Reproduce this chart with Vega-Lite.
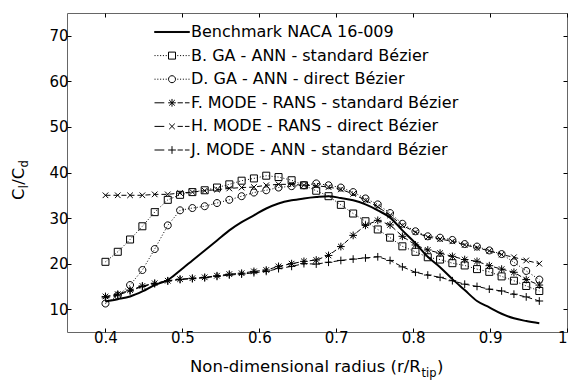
{
  "$schema": "https://vega.github.io/schema/vega-lite/v6.json",
  "width": 500,
  "height": 319,
  "autosize": {"type": "none"},
  "padding": {"left": 67, "top": 13, "right": 9, "bottom": 48},
  "background": "white",
  "config": {
    "view": {"stroke": "#666666", "strokeWidth": 1},
    "font": "DejaVu Sans"
  },
  "data": {
    "values": [
      {"x": 0.400, "bench": 11.7, "B": 20.4, "D": 11.25, "F": 12.8, "H": 35.0, "J": 12.5},
      {"x": 0.416, "bench": 12.2, "B": 22.6, "D": 13.0, "F": 13.3, "H": 35.0, "J": 13.1},
      {"x": 0.432, "bench": 12.8, "B": 25.3, "D": 15.3, "F": 14.2, "H": 35.0, "J": 14.0},
      {"x": 0.448, "bench": 13.9, "B": 28.2, "D": 18.6, "F": 15.1, "H": 35.0, "J": 15.0},
      {"x": 0.464, "bench": 15.3, "B": 31.3, "D": 23.2, "F": 15.7, "H": 35.2, "J": 15.6},
      {"x": 0.481, "bench": 16.4, "B": 34.0, "D": 28.4, "F": 16.25, "H": 35.2, "J": 16.2},
      {"x": 0.497, "bench": 18.5, "B": 35.1, "D": 31.7, "F": 16.6, "H": 35.5, "J": 16.5},
      {"x": 0.513, "bench": 20.7, "B": 35.7, "D": 32.2, "F": 16.8, "H": 35.7, "J": 16.7},
      {"x": 0.529, "bench": 22.9, "B": 36.1, "D": 32.6, "F": 17.0, "H": 36.0, "J": 16.9},
      {"x": 0.545, "bench": 25.1, "B": 36.7, "D": 33.3, "F": 17.35, "H": 36.25, "J": 17.2},
      {"x": 0.561, "bench": 27.3, "B": 37.4, "D": 34.0, "F": 17.7, "H": 36.5, "J": 17.5},
      {"x": 0.577, "bench": 29.1, "B": 38.2, "D": 34.8, "F": 17.9, "H": 36.7, "J": 17.7},
      {"x": 0.593, "bench": 30.6, "B": 38.7, "D": 35.6, "F": 18.3, "H": 36.8, "J": 18.0},
      {"x": 0.609, "bench": 32.1, "B": 39.3, "D": 36.1, "F": 18.6, "H": 37.2, "J": 18.3},
      {"x": 0.625, "bench": 33.2, "B": 39.0, "D": 36.7, "F": 19.4, "H": 37.4, "J": 18.9},
      {"x": 0.642, "bench": 33.9, "B": 38.3, "D": 37.0, "F": 20.0, "H": 37.4, "J": 19.4},
      {"x": 0.658, "bench": 34.3, "B": 37.2, "D": 37.2, "F": 20.5, "H": 37.2, "J": 20.0},
      {"x": 0.674, "bench": 34.6, "B": 36.0, "D": 37.6, "F": 20.8, "H": 37.1, "J": 19.9},
      {"x": 0.690, "bench": 34.8, "B": 34.8, "D": 37.2, "F": 21.8, "H": 36.8, "J": 20.3},
      {"x": 0.706, "bench": 34.4, "B": 32.9, "D": 36.7, "F": 23.75, "H": 36.3, "J": 20.7},
      {"x": 0.722, "bench": 33.9, "B": 31.0, "D": 35.7, "F": 26.2, "H": 35.3, "J": 21.0},
      {"x": 0.738, "bench": 33.0, "B": 29.3, "D": 34.3, "F": 28.4, "H": 33.9, "J": 21.25},
      {"x": 0.754, "bench": 31.7, "B": 27.5, "D": 33.0, "F": 29.5, "H": 32.5, "J": 21.5},
      {"x": 0.770, "bench": 30.1, "B": 25.7, "D": 31.1, "F": 28.5, "H": 30.6, "J": 20.7},
      {"x": 0.786, "bench": 27.3, "B": 23.8, "D": 28.75, "F": 26.0, "H": 28.4, "J": 19.3},
      {"x": 0.803, "bench": 24.5, "B": 22.6, "D": 27.1, "F": 24.1, "H": 26.9, "J": 18.1},
      {"x": 0.819, "bench": 21.5, "B": 21.4, "D": 26.0, "F": 23.0, "H": 25.8, "J": 17.5},
      {"x": 0.835, "bench": 19.2, "B": 20.9, "D": 25.7, "F": 22.3, "H": 25.4, "J": 17.0},
      {"x": 0.851, "bench": 16.6, "B": 20.1, "D": 25.2, "F": 21.6, "H": 24.9, "J": 16.25},
      {"x": 0.867, "bench": 14.2, "B": 19.6, "D": 24.3, "F": 20.9, "H": 24.1, "J": 15.5},
      {"x": 0.883, "bench": 11.8, "B": 18.8, "D": 23.75, "F": 20.5, "H": 23.5, "J": 15.0},
      {"x": 0.899, "bench": 10.4, "B": 18.2, "D": 22.9, "F": 19.55, "H": 22.8, "J": 14.4},
      {"x": 0.915, "bench": 9.0, "B": 17.2, "D": 22.1, "F": 18.8, "H": 22.0, "J": 14.0},
      {"x": 0.931, "bench": 8.0, "B": 16.25, "D": 20.3, "F": 18.1, "H": 21.4, "J": 13.3},
      {"x": 0.947, "bench": 7.4, "B": 15.1, "D": 18.4, "F": 16.5, "H": 20.7, "J": 12.7},
      {"x": 0.964, "bench": 6.9, "B": 14.0, "D": 16.5, "F": 15.3, "H": 20.0, "J": 11.8}
    ]
  },
  "transform": [{"fold": ["bench", "B", "D", "F", "H", "J"], "as": ["series", "val"]}],
  "layer": [
    {
      "transform": [{"filter": "datum.series == 'bench'"}],
      "mark": {"type": "line", "color": "black", "strokeWidth": 2, "interpolate": "monotone"},
      "encoding": {
        "x": {"field": "x", "type": "quantitative",
          "scale": {"domain": [0.35, 1], "nice": false, "zero": false},
          "axis": {"orient": "bottom", "values": [0.4, 0.5, 0.6, 0.7, 0.8, 0.9, 1], "format": "~g",
            "tickSize": -4, "tickColor": "black", "domain": false, "grid": false,
            "labelFont": "DejaVu Sans", "labelFontSize": 15, "labelColor": "black", "labelPadding": 2,
            "title": "Non-dimensional radius (r/R", "titleFont": "DejaVu Sans", "titleFontSize": 16.5,
            "titleFontWeight": "normal", "titleColor": "black", "titleX": 122.5, "titleY": 39,
            "titleAlign": "left", "titleBaseline": "alphabetic"}},
        "y": {"field": "val", "type": "quantitative",
          "scale": {"domain": [5, 75], "nice": false, "zero": false},
          "axis": {"orient": "left", "values": [10, 20, 30, 40, 50, 60, 70],
            "tickSize": -4, "tickColor": "black", "domain": false, "grid": false,
            "labelFont": "DejaVu Sans", "labelFontSize": 15, "labelColor": "black", "labelPadding": 3,
            "title": "C", "titleFont": "DejaVu Sans", "titleFontSize": 16.5,
            "titleFontWeight": "normal", "titleColor": "black", "titleX": -44, "titleY": 186.5,
            "titleAngle": -90, "titleAlign": "left", "titleBaseline": "alphabetic"}}
      }
    },
    {
      "transform": [{"filter": "datum.series != 'bench'"}],
      "mark": {"type": "line", "color": "black", "strokeWidth": 1},
      "encoding": {
        "x": {"field": "x", "type": "quantitative", "axis": null},
        "y": {"field": "val", "type": "quantitative", "axis": null},
        "detail": {"field": "series"},
        "strokeDash": {"field": "series", "type": "nominal",
          "scale": {"domain": ["B", "D", "F", "H", "J"], "range": [[1, 2], [1, 2], [5, 3], [5, 3], [5, 3]]},
          "legend": null}
      }
    },
    {
      "transform": [{"filter": "datum.series != 'bench'"}],
      "mark": {"type": "point", "color": "black", "filled": false, "strokeWidth": 1, "opacity": 1, "size": 49},
      "encoding": {
        "x": {"field": "x", "type": "quantitative", "axis": null},
        "y": {"field": "val", "type": "quantitative", "axis": null},
        "shape": {"field": "series", "type": "nominal",
          "scale": {"domain": ["B", "D", "F", "H", "J"],
            "range": ["M-1,-1H1V1H-1Z",
              "M-1,0A1,1,0,1,1,1,0A1,1,0,1,1,-1,0Z",
              "M-1.1,0H1.1M0,-1.1V1.1M-0.8,-0.8L0.8,0.8M-0.8,0.8L0.8,-0.8",
              "M-0.8,-0.8L0.8,0.8M-0.8,0.8L0.8,-0.8",
              "M-1.1,0H1.1M0,-1.1V1.1"]},
          "legend": null}
      }
    },
    {
      "transform": [{"filter": "datum.series == 'none'"}],
      "mark": {"type": "point", "color": "black", "filled": false, "strokeWidth": 1, "opacity": 1, "size": 49},
      "encoding": {
        "x": {"field": "x", "type": "quantitative", "axis": null},
        "y": {"field": "val", "type": "quantitative", "axis": null},
        "shape": {"field": "series", "type": "nominal",
          "scale": {"domain": ["bench", "B", "D", "F", "H", "J"],
            "range": ["M-5,-0.15H5V0.15H-5Z",
              "M-5,0h0.3M-4.2,0h0.3M-3.4,0h0.3M-2.6,0h0.3M-1.8,0h0.3M1.5,0h0.3M2.3,0h0.3M3.1,0h0.3M3.9,0h0.3M4.7,0h0.3M-1,-1H1V1H-1Z",
              "M-5,0h0.3M-4.2,0h0.3M-3.4,0h0.3M-2.6,0h0.3M-1.8,0h0.3M1.5,0h0.3M2.3,0h0.3M3.1,0h0.3M3.9,0h0.3M4.7,0h0.3M-1,0A1,1,0,1,1,1,0A1,1,0,1,1,-1,0Z",
              "M-5,0H-2.2M1.6,0H3.1M3.7,0H5M-1.1,0H1.1M0,-1.1V1.1M-0.8,-0.8L0.8,0.8M-0.8,0.8L0.8,-0.8",
              "M-5,0H-2.2M1.6,0H3.1M3.7,0H5M-0.8,-0.8L0.8,0.8M-0.8,0.8L0.8,-0.8",
              "M-5,0H-2.2M1.6,0H3.1M3.7,0H5M-1.1,0H1.1M0,-1.1V1.1"]},
          "legend": {
            "title": null, "orient": "none", "legendX": 97, "legendY": 11, "padding": 0,
            "rowPadding": 7.6, "labelFont": "DejaVu Sans", "labelFontSize": 16, "labelColor": "black",
            "labelLimit": 400, "labelOffset": 11, "symbolSize": 49,
            "symbolStrokeColor": "black", "symbolFillColor": "transparent", "symbolStrokeWidth": 1,
            "labelExpr": "datum.value == 'bench' ? 'Benchmark NACA 16-009' : datum.value == 'B' ? 'B. GA - ANN - standard Bézier' : datum.value == 'D' ? 'D. GA - ANN - direct Bézier' : datum.value == 'F' ? 'F. MODE - RANS - standard Bézier' : datum.value == 'H' ? 'H. MODE - RANS - direct Bézier' : 'J. MODE - ANN - standard Bézier'"
          }}
      }
    },
    {
      "transform": [{"filter": "datum.series == 'bench'"}],
      "mark": {"type": "point", "opacity": 0},
      "encoding": {
        "x": {"field": "x", "type": "quantitative",
          "axis": {"orient": "top", "values": [0.4, 0.5, 0.6, 0.7, 0.8, 0.9, 1], "labels": false,
            "tickSize": -4, "tickColor": "black", "domain": false, "grid": false, "title": null}},
        "y": {"field": "val", "type": "quantitative",
          "axis": {"orient": "right", "values": [10, 20, 30, 40, 50, 60, 70], "labels": false,
            "tickSize": -4, "tickColor": "black", "domain": false, "grid": false, "title": null}}
      }
    },
    {
      "transform": [{"filter": "datum.series == 'bench'"}],
      "mark": {"type": "point", "opacity": 0},
      "encoding": {
        "x": {"field": "x", "type": "quantitative",
          "axis": {"orient": "bottom", "labels": false, "ticks": false, "domain": false, "grid": false,
            "title": "tip", "titleFont": "DejaVu Sans", "titleFontSize": 11.5, "titleFontWeight": "normal",
            "titleColor": "black", "titleX": 354, "titleY": 44, "titleAlign": "left", "titleBaseline": "alphabetic"}},
        "y": {"field": "val", "type": "quantitative",
          "axis": {"orient": "left", "labels": false, "ticks": false, "domain": false, "grid": false,
            "title": "l", "titleFont": "DejaVu Sans", "titleFontSize": 11.5, "titleFontWeight": "normal",
            "titleColor": "black", "titleX": -40, "titleY": 174.8, "titleAngle": -90, "titleAlign": "left",
            "titleBaseline": "alphabetic"}}
      }
    },
    {
      "transform": [{"filter": "datum.series == 'bench'"}],
      "mark": {"type": "point", "opacity": 0},
      "encoding": {
        "x": {"field": "x", "type": "quantitative",
          "axis": {"orient": "bottom", "labels": false, "ticks": false, "domain": false, "grid": false,
            "title": ")", "titleFont": "DejaVu Sans", "titleFontSize": 16.5, "titleFontWeight": "normal",
            "titleColor": "black", "titleX": 369.5, "titleY": 39, "titleAlign": "left", "titleBaseline": "alphabetic"}},
        "y": {"field": "val", "type": "quantitative",
          "axis": {"orient": "left", "labels": false, "ticks": false, "domain": false, "grid": false,
            "title": "/C", "titleFont": "DejaVu Sans", "titleFontSize": 16.5, "titleFontWeight": "normal",
            "titleColor": "black", "titleX": -44, "titleY": 171.3, "titleAngle": -90, "titleAlign": "left",
            "titleBaseline": "alphabetic"}}
      }
    },
    {
      "transform": [{"filter": "datum.series == 'bench'"}],
      "mark": {"type": "point", "opacity": 0},
      "encoding": {
        "x": {"field": "x", "type": "quantitative", "axis": null},
        "y": {"field": "val", "type": "quantitative",
          "axis": {"orient": "left", "labels": false, "ticks": false, "domain": false, "grid": false,
            "title": "d", "titleFont": "DejaVu Sans", "titleFontSize": 11.5, "titleFontWeight": "normal",
            "titleColor": "black", "titleX": -40, "titleY": 154, "titleAngle": -90, "titleAlign": "left",
            "titleBaseline": "alphabetic"}}
      }
    }
  ],
  "resolve": {"axis": {"x": "independent", "y": "independent"}, "scale": {"shape": "independent"}}
}
